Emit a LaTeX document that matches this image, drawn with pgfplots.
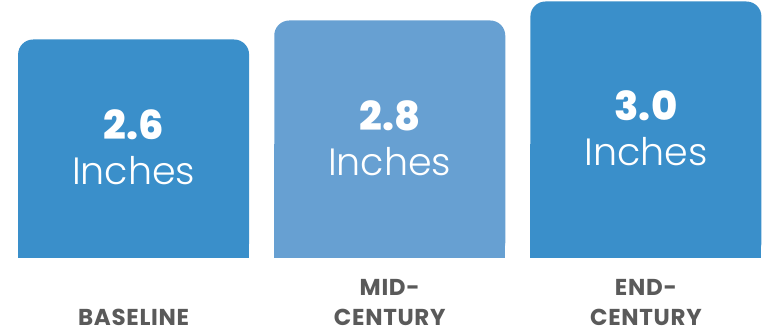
\documentclass[border=0pt]{standalone}
\usepackage{pgfplots}
\pgfplotsset{compat=1.18}
\usepackage{fontspec}
\setmainfont{Poppins}
\newfontfamily\lightfont{Poppins Light}
\newfontfamily\heavyfont{Poppins ExtraBold}
\definecolor{barA}{HTML}{3A8FCA}
\definecolor{barB}{HTML}{67A0D2}
\definecolor{lab}{HTML}{5A5A5A}
\begin{document}
\begin{tikzpicture}
\begin{axis}[
  scale only axis, width=769pt, height=258pt,
  xmin=-0.5215, xmax=2.4805, ymin=0.3, ymax=3.0158,
  axis line style={draw=none}, tick style={draw=none},
  ytick=\empty, xtick={0,1,2},
  xticklabels={{BASELINE},{MID-\\CENTURY},{END-\\CENTURY}},
  xticklabel style={anchor=south, inner sep=0pt, yshift=-64pt, align=center,
    font=\fontsize{23}{30}\selectfont\bfseries\addfontfeatures{LetterSpace=3}, text=lab},
  ybar, bar width=231pt, clip=true,
]
% rounded bars (values)
\addplot[fill=barA, draw=none, rounded corners=15pt, bar shift=0pt] coordinates {(0,2.6)};
\addplot[fill=barB, draw=none, rounded corners=15pt, bar shift=0pt] coordinates {(1,2.8)};
\addplot[fill=barA, draw=none, rounded corners=15pt, bar shift=0pt] coordinates {(2,3.0)};
% square-cornered lower parts so only the top corners are rounded
\addplot[fill=barA, draw=none, bar shift=0pt] coordinates {(0,1.5)};
\addplot[fill=barB, draw=none, bar shift=0pt] coordinates {(1,1.5)};
\addplot[fill=barA, draw=none, bar shift=0pt] coordinates {(2,1.5)};
\node[anchor=base, yshift=9pt, text=white, font=\fontsize{40}{40}\selectfont\heavyfont] at (axis cs:0,1.45) {2.6};
\node[anchor=base, yshift=-36pt, text=white, font=\fontsize{38}{38}\selectfont\lightfont] at (axis cs:0,1.45) {Inches};
\node[anchor=base, yshift=9pt, text=white, font=\fontsize{40}{40}\selectfont\heavyfont] at (axis cs:1,1.55) {2.8};
\node[anchor=base, yshift=-36pt, text=white, font=\fontsize{38}{38}\selectfont\lightfont] at (axis cs:1,1.55) {Inches};
\node[anchor=base, yshift=9pt, text=white, font=\fontsize{40}{40}\selectfont\heavyfont] at (axis cs:2,1.65) {3.0};
\node[anchor=base, yshift=-36pt, text=white, font=\fontsize{38}{38}\selectfont\lightfont] at (axis cs:2,1.65) {Inches};
\coordinate (bl) at (rel axis cs:0,0);
\coordinate (tr) at (rel axis cs:1,1);
\end{axis}
\pgfresetboundingbox
\path (bl) ++(0,-76pt) rectangle (tr);
\end{tikzpicture}
\end{document}
